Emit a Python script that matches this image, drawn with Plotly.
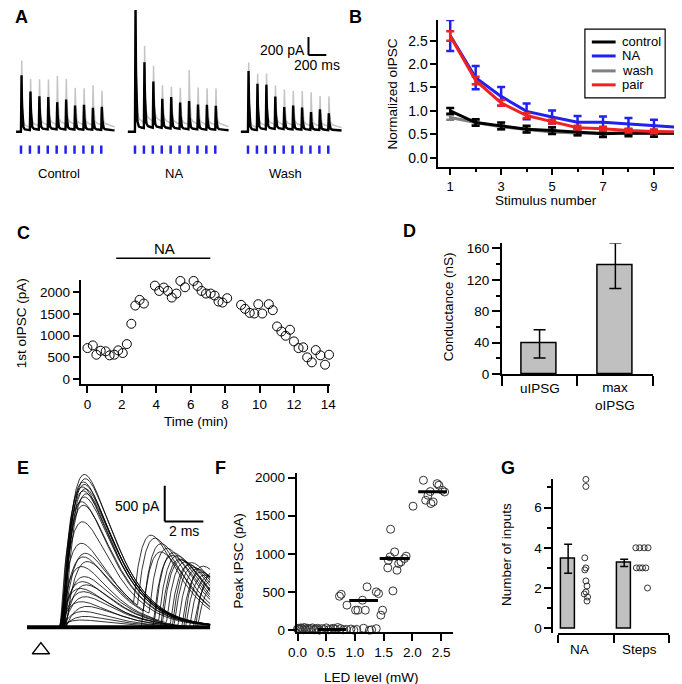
import numpy as np
import plotly.graph_objects as go

FONT = "Liberation Sans, Arial, Helvetica, sans-serif"
W, H = 682, 684
OFF = 8                      # page body margin
KX = (W + OFF) / W           # page is shown shrunk to fit the window
KY = (H + OFF) / H
BLUE = "#2222ee"
RED = "#ee2222"
GRAY = "#808080"
BAR_GRAY = "#c0c0c0"


def px(x):
    return (x * KX - OFF) / W


def py(y):
    return 1 - (y * KY - OFF) / H


# ---------------- A: oIPSC trains ----------------
A_STIM_INTERVAL = 100          # ms between LED pulses
A_GROUP_START = [144, 1422, 2689]
A_LABELS = ["Control", "NA", "Wash"]
A_CTRL_MEAN = [600, 410, 355, 345, 290, 320, 255, 265, 235, 245]
A_CTRL_SWEEP = [710, 480, 465, 455, 490, 455, 365, 365, 400, 345]
A_NA_MEAN = [1310, 700, 490, 310, 335, 280, 300, 265, 265, 255]
A_NA_SWEEP = [1420, 765, 555, 365, 365, 365, 545, 365, 365, 365]
A_WASH_MEAN = [645, 490, 475, 345, 235, 255, 235, 190, 220, 180]
A_WASH_SWEEP = [690, 535, 520, 390, 355, 345, 345, 335, 300, 300]

# ---------------- B: normalized train ----------------
B_STIM = [1, 2, 3, 4, 5, 6, 7, 8, 9, 10]
B_CTRL = [1.0, 0.75, 0.68, 0.61, 0.58, 0.55, 0.51, 0.53, 0.52, 0.52]
B_CTRL_ERR = [0.06, 0.07, 0.07, 0.07, 0.07, 0.07, 0.07, 0.07, 0.07, 0.07]
B_NA = [2.61, 1.71, 1.31, 0.99, 0.87, 0.76, 0.76, 0.72, 0.69, 0.65]
B_NA_ERR = [0.33, 0.25, 0.20, 0.17, 0.14, 0.13, 0.12, 0.13, 0.12, 0.12]
B_WASH = [0.86, 0.75, 0.66, 0.60, 0.55, 0.53, 0.53, 0.53, 0.52, 0.53]
B_WASH_ERR = [0.05, 0.05, 0.05, 0.05, 0.05, 0.05, 0.05, 0.05, 0.05, 0.05]
B_PAIR = [2.60, 1.65, 1.17, 0.90, 0.77, 0.64, 0.62, 0.58, 0.56, 0.55]
B_PAIR_ERR = [0.10, 0.08, 0.06, 0.05, 0.04, 0.04, 0.04, 0.04, 0.04, 0.04]
B_LEGEND = ["control", "NA", "wash", "pair"]

# ---------------- C: time course ----------------
C_TIME = [0.0, 0.31, 0.52, 0.77, 1.06, 1.29, 1.56, 1.79, 2.05, 2.29, 2.55, 2.78,
          3.03, 3.28, 3.92, 4.17, 4.44, 4.67, 4.90, 5.17, 5.40, 5.67, 5.90, 6.17,
          6.40, 6.63, 6.89, 7.16, 7.39, 7.62, 7.85, 8.12, 8.93, 9.16, 9.43, 9.70,
          9.93, 10.16, 10.54, 10.77, 11.02, 11.27, 11.52, 11.77, 12.00, 12.27,
          12.54, 12.77, 13.04, 13.27, 13.54, 13.81, 14.04]
C_AMP = [712, 774, 559, 651, 636, 544, 559, 659, 598, 804, 1272, 1693, 1823, 1739,
         2152, 2030, 2107, 2030, 1877, 1969, 2260, 2114, 2290, 2260, 2145, 2030,
         1969, 1969, 1923, 1785, 1762, 1862, 1708, 1616, 1524, 1509, 1724, 1509,
         1724, 1586, 1210, 1095, 996, 1134, 866, 712, 728, 498, 383, 666, 544,
         329, 559]
C_NA_START, C_NA_END = 1.67, 7.14

# ---------------- D: conductance ----------------
D_LABELS = ["uIPSG", "max<br>oIPSG"]
D_MEAN = [38.5, 138]
D_ERR = [18, 29]

# ---------------- E: LED intensity series ----------------
E_AMP1 = [2130, 2070, 2025, 1990, 1955, 1930, 1900, 1860, 1815, 1750, 1700, 1470,
          1170, 1030, 980, 915, 845, 705, 635, 590, 540, 495, 425, 355, 290, 220,
          150, 100, 0, 0, 0, 0, 0, 0]
E_LAT1 = [1.15, 1.2, 1.1, 1.15, 1.05, 1.2, 1.1, 1.25, 1.15, 1.0, 1.1, 1.05, 1.0,
          1.2, 1.1, 1.3, 1.0, 1.15, 1.05, 1.25, 0.95, 1.1, 1.2, 1.0, 1.3, 1.1, 1.2,
          1.0, 1.1, 1.1, 1.1, 1.1, 1.1, 1.1]
E_AMP2 = [0, 0, 0, 0, 0, 0, 0, 0, 0, 0, 0, 0, 1100, 1080, 1050, 1000, 980, 950,
          900, 880, 850, 820, 800, 760, 720, 700, 650, 600, 1050, 1000, 950, 900,
          850, 780]
E_LAT2 = [0, 0, 0, 0, 0, 0, 0, 0, 0, 0, 0, 0, 4.8, 5.0, 5.3, 5.6, 5.9, 6.1, 6.3,
          6.5, 6.7, 6.9, 7.1, 7.3, 7.5, 7.7, 7.9, 8.1, 5.2, 5.8, 6.2, 6.8, 7.4, 8.0]
E_TAU1, E_TAU2 = 1.1, 1.0

# ---------------- F: peak IPSC vs LED ----------------
F_LED = [0.00, 0.02, 0.04, 0.06, 0.08, 0.10, 0.12, 0.14, 0.17, 0.20, 0.23, 0.26,
         0.29, 0.32, 0.35, 0.38, 0.42, 0.46, 0.50, 0.54, 0.58, 0.62, 0.66, 0.70,
         0.75, 0.80, 0.85, 0.93, 0.98, 1.03, 1.15, 1.25, 1.29, 1.37,
         0.73, 0.76, 0.86, 1.01, 1.05, 1.13, 1.18, 1.21, 1.37, 1.41, 1.45, 1.48,
         1.57, 1.58, 1.61, 1.62, 1.66, 1.69, 1.73, 1.76, 1.80, 1.86, 1.89,
         2.01, 2.19, 2.23, 2.27, 2.31, 2.32, 2.36, 2.43, 2.46, 2.52, 2.56, 2.69]
F_PEAK = [15, 25, 10, 30, 20, 5, 35, 15, 25, 10, 20, 30, 5, 15, 25, 0, 20, 10, 30,
          5, 15, 25, 10, 35, 20, 5, 10, 15, 0, 10, 25, 0, 5, 20,
          445, 470, 328, 262, 262, 393, 262, 568, 502, 480, 197, 262,
          817, 917, 961, 1323, 515, 1026, 786, 873, 895, 939, 970,
          1625, 1965, 1703, 1769, 1817, 1660, 1681, 1921, 1900, 1834, 1812, 2096]
F_MEAN = [10, 390, 940, 1815]
F_MEAN_LO = [0.35, 0.90, 1.43, 2.10]
F_MEAN_HI = [0.85, 1.40, 1.95, 2.60]

# ---------------- G: number of inputs ----------------
G_LABELS = ["NA", "Steps"]
G_BAR_X = [-0.32, 0.69]
G_MEAN = [3.45, 3.25]
G_ERR = [0.72, 0.18]
G_NA_X = [0.0, 0.0, -0.02, 0.0, -0.02, 0.0, 0.02, 0.0, -0.03, 0.03, 0.02]
G_NA_Y = [7.4, 7.05, 3.5, 3.0, 2.9, 2.35, 2.1, 1.8, 1.7, 1.55, 1.35]
G_ST_X = [0.90, 0.97, 1.05, 1.12, 0.91, 0.97, 1.02, 1.08, 1.11]
G_ST_Y = [4, 4, 4, 4, 3, 3, 3, 3, 2]


def a_sweep(amps, lag, slow):
    t = np.arange(-80, 1050, 1.0)
    y = np.zeros_like(t)
    for i, a in enumerate(amps):
        d = t - i * A_STIM_INTERVAL - lag
        k = np.where(d < 0, 0, np.where(d < 6, d / 6, np.exp(-(d - 6) / 7)))
        s = np.where(d < 0, 0, slow * np.exp(-d / 200))
        y += a * (k + s)
    return t, y


def join_groups(groups, lag, slow):
    xs, ys = [], []
    for start, amps in zip(A_GROUP_START, groups):
        t, y = a_sweep(amps, lag, slow)
        xs += list(t + start) + [None]
        ys += list(y) + [None]
    return xs, ys


def alpha(t, onset, amp, tau):
    d = (t - onset) / tau
    return np.where(d < 0, 0, amp * d * np.exp(1 - d))


fig = go.Figure()

# A
gx, gy = join_groups([A_CTRL_SWEEP, A_NA_SWEEP, A_WASH_SWEEP], 2, 0.12)
fig.add_trace(go.Scatter(x=gx, y=gy, mode="lines", line=dict(color="#c4c4c4", width=1.5),
                         xaxis="x", yaxis="y", showlegend=False, hoverinfo="skip"))
bx, by = join_groups([A_CTRL_MEAN, A_NA_MEAN, A_WASH_MEAN], 0, 0.05)
fig.add_trace(go.Scatter(x=bx, y=by, mode="lines", line=dict(color="black", width=2.4),
                         xaxis="x", yaxis="y", showlegend=False, hoverinfo="skip"))
stim_x = [s + i * A_STIM_INTERVAL for s in A_GROUP_START for i in range(10)]
fig.add_trace(go.Scatter(x=stim_x, y=[-200] * len(stim_x), mode="markers",
                         marker=dict(symbol="line-ns", size=6, line=dict(color=BLUE, width=2.5)),
                         xaxis="x", yaxis="y", showlegend=False, hoverinfo="skip"))

# B
b_series = [
    (B_WASH, B_WASH_ERR, GRAY),
    (B_CTRL, B_CTRL_ERR, "black"),
    (B_NA, B_NA_ERR, BLUE),
    (B_PAIR, B_PAIR_ERR, RED),
]
for vals, err, col in b_series:
    fig.add_trace(go.Scatter(
        x=B_STIM, y=vals, mode="lines",
        line=dict(color=col, width=3),
        error_y=dict(type="data", array=err, color=col, thickness=2.5, width=4),
        xaxis="x2", yaxis="y2", showlegend=False, cliponaxis=False,
    ))

# C
fig.add_trace(go.Scatter(x=C_TIME, y=C_AMP, mode="markers",
                         marker=dict(symbol="circle-open", size=9, color="black", line=dict(width=1)),
                         xaxis="x3", yaxis="y3", showlegend=False, cliponaxis=False))

# D
fig.add_trace(go.Bar(x=[0, 1], y=D_MEAN, width=0.46,
                     marker=dict(color=BAR_GRAY, line=dict(color="black", width=1.5)),
                     error_y=dict(type="data", array=D_ERR, color="black", thickness=1.5, width=6),
                     xaxis="x4", yaxis="y4", showlegend=False))

# E
e_t = np.linspace(-0.72, 8.77, 500)
ex, ey = [], []
for a1, l1, a2, l2 in zip(E_AMP1, E_LAT1, E_AMP2, E_LAT2):
    y = alpha(e_t, l1, a1, E_TAU1) + alpha(e_t, l2, a2, E_TAU2)
    ex += list(e_t) + [None]
    ey += list(y) + [None]
fig.add_trace(go.Scatter(x=ex, y=ey, mode="lines", line=dict(color="black", width=0.8),
                         xaxis="x5", yaxis="y5", showlegend=False, hoverinfo="skip"))
fig.add_trace(go.Scatter(x=[e_t[0], e_t[-1]], y=[0, 0], mode="lines",
                         line=dict(color="black", width=4),
                         xaxis="x5", yaxis="y5", showlegend=False, hoverinfo="skip"))
fig.add_trace(go.Scatter(x=[0], y=[-320], mode="markers",
                         marker=dict(symbol="triangle-up-open", size=15, color="black", line=dict(width=1.5)),
                         xaxis="x5", yaxis="y5", showlegend=False, cliponaxis=False))

# F
fig.add_trace(go.Scatter(x=F_LED, y=F_PEAK, mode="markers",
                         marker=dict(symbol="circle-open", size=8, color="#333333", line=dict(width=1)),
                         xaxis="x6", yaxis="y6", showlegend=False, cliponaxis=False))
mx, my = [], []
for lo, hi, m in zip(F_MEAN_LO, F_MEAN_HI, F_MEAN):
    mx += [lo, hi, None]
    my += [m, m, None]
fig.add_trace(go.Scatter(x=mx, y=my, mode="lines", line=dict(color="black", width=3),
                         xaxis="x6", yaxis="y6", showlegend=False, cliponaxis=False))

# G
fig.add_trace(go.Bar(x=G_BAR_X, y=G_MEAN, width=0.25,
                     marker=dict(color=BAR_GRAY, line=dict(color="black", width=1.5)),
                     error_y=dict(type="data", array=G_ERR, color="black", thickness=1.5, width=4),
                     xaxis="x7", yaxis="y7", showlegend=False))
fig.add_trace(go.Scatter(x=G_NA_X + G_ST_X, y=G_NA_Y + G_ST_Y, mode="markers",
                         marker=dict(symbol="circle-open", size=6, color="#333333", line=dict(width=1)),
                         xaxis="x7", yaxis="y7", showlegend=False, cliponaxis=False))


def axis(domain, rng, **kw):
    d = dict(domain=domain, range=rng, showline=True, linecolor="black", linewidth=1.5,
             ticks="outside", tickcolor="black", tickwidth=1.5, ticklen=7,
             showgrid=False, zeroline=False, tickfont=dict(size=13.5, color="black"))
    d.update(kw)
    return d


hidden = dict(visible=False, showgrid=False, zeroline=False)

fig.update_layout(
    width=W, height=H,
    margin=dict(l=0, r=0, t=0, b=0),
    paper_bgcolor="white", plot_bgcolor="white",
    font=dict(family=FONT, size=13, color="black"),
    bargap=0, showlegend=False,
    # A
    xaxis=dict(domain=[px(8), px(345)], range=[89, 3833], **hidden),
    yaxis=dict(domain=[py(160), py(8)], range=[-333, 1354], **hidden),
    # B
    xaxis2=axis([px(434), 1.0], [0.53, 10.18], anchor="y2", tickvals=[1, 3, 5, 7, 9], ticklen=7,
                tickfont=dict(size=13, color="black"),
                minor=dict(tickvals=[2, 4, 6, 8, 10], ticks="outside", ticklen=4, tickcolor="black")),
    yaxis2=axis([py(165), py(18)], [-0.19, 2.94], anchor="x2", tickvals=[0, 0.5, 1, 1.5, 2, 2.5],
                tickformat=".1f", ticklen=6, tickfont=dict(size=14, color="black")),
    # C
    xaxis3=axis([px(74), px(325)], [-0.346, 14.11], anchor="y3", tickvals=list(range(0, 15, 2))),
    yaxis3=axis([py(383), py(279)], [-115, 2276], anchor="x3", tickvals=[0, 500, 1000, 1500, 2000]),
    # D
    xaxis4=axis([px(498), px(651)], [-0.5, 1.5], anchor="y4", tickvals=[-0.5, 0.5, 1.5],
                ticklen=10, showticklabels=False),
    yaxis4=axis([py(373), py(242)], [0, 166.5], anchor="x4", tickvals=[0, 40, 80, 120, 160],
                ticklen=8, minor=dict(dtick=20, ticks="outside", ticklen=4, tickcolor="black")),
    # E
    xaxis5=dict(domain=[px(19), px(204)], range=[-0.72, 8.77], **hidden),
    yaxis5=dict(domain=[py(660), py(469)], range=[-459, 2196], **hidden),
    # F
    xaxis6=axis([px(291), px(449)], [-0.017, 2.707], anchor="y6",
                tickvals=[0, 0.5, 1, 1.5, 2, 2.5], tickformat=".1f"),
    yaxis6=axis([py(632), py(472)], [-26, 2065], anchor="x6", tickvals=[0, 500, 1000, 1500, 2000]),
    # G
    xaxis7=axis([px(555), px(667)], [-0.5, 1.5], anchor="y7", tickvals=[-0.5, 0.5, 1.5],
                ticklen=8, showticklabels=False),
    yaxis7=axis([py(633), py(478)], [-0.248, 7.44], anchor="free", position=px(549),
                tickvals=[0, 2, 4, 6], minor=dict(dtick=1, ticks="outside", ticklen=4, tickcolor="black")),
)

shapes = [
    # A scale bar (200 pA / 200 ms)
    dict(type="line", xref="x", yref="y", x0=3367, x1=3367, y0=855, y1=1055, line=dict(color="black", width=2)),
    dict(type="line", xref="x", yref="y", x0=3367, x1=3567, y0=855, y1=855, line=dict(color="black", width=2)),
    # C drug bar
    dict(type="line", xref="x3", yref="paper", x0=C_NA_START, x1=C_NA_END, y0=py(257), y1=py(257),
         line=dict(color="black", width=1.5)),
    # E scale bar (500 pA / 2 ms)
    dict(type="line", xref="x5", yref="y5", x0=6.41, x1=6.41, y0=1473, y1=1973, line=dict(color="black", width=2)),
    dict(type="line", xref="x5", yref="y5", x0=6.41, x1=8.41, y0=1473, y1=1473, line=dict(color="black", width=2)),
    # B legend frame
    dict(type="rect", xref="paper", yref="paper", x0=px(582), x1=px(663), y0=py(96), y1=py(27),
         line=dict(color="black", width=1.2), fillcolor="white", layer="above"),
]
legend_cols = ["black", BLUE, GRAY, RED]
legend_rows = [40, 54, 69, 83]
for col, yy in zip(legend_cols, legend_rows):
    shapes.append(dict(type="line", xref="paper", yref="paper", x0=px(589), x1=px(613),
                       y0=py(yy), y1=py(yy), line=dict(color=col, width=3), layer="above"))
fig.update_layout(shapes=shapes)


def note(text, x, y, size=13, bold=False, angle=0, xanchor="center"):
    fig.add_annotation(text=f"<b>{text}</b>" if bold else text, x=px(x), y=py(y),
                       xref="paper", yref="paper", showarrow=False, textangle=angle,
                       xanchor=xanchor, yanchor="middle", align="center",
                       font=dict(size=size, color="black"))


for letter, x, y in [("A", 13, 15), ("B", 350, 15), ("C", 15, 232), ("D", 405, 230),
                     ("E", 15, 467), ("F", 214, 467), ("G", 504, 467)]:
    note(letter, x, y, size=18, bold=True)

for lab, x in zip(A_LABELS, [51, 167, 280]):
    note(lab, x, 172, size=13)
note("200 pA", 302, 48, size=14, xanchor="right")
note("200 ms", 312, 63, size=14)

for lab, yy in zip(B_LEGEND, legend_rows):
    note(lab, 617, yy, size=13, xanchor="left")
note("Normalized oIPSC", 388, 92, size=13.5, angle=-90)
note("Stimulus number", 543, 199, size=13.5)

note("NA", 158, 247, size=15)
note("1st oIPSC (pA)", 13, 322, size=13.5, angle=-90)
note("Time (min)", 190, 421, size=13.5)

note("Conductance (nS)", 444, 306, size=13.5, angle=-90)
note(D_LABELS[0], 537, 388, size=13.5)
note(D_LABELS[1], 612, 396, size=13.5)

note("500 pA", 155, 505, size=14, xanchor="right")
note("2 ms", 177, 531, size=14)

note("Peak IPSC (pA)", 232, 561, size=13.5, angle=-90)
note("LED level (mW)", 367, 677, size=13.5)

note("Number of inputs", 503, 554, size=13.5, angle=-90)
note(G_LABELS[0], 577, 649, size=13.5)
note(G_LABELS[1], 637, 649, size=13.5)

fig.write_html("out.html")
